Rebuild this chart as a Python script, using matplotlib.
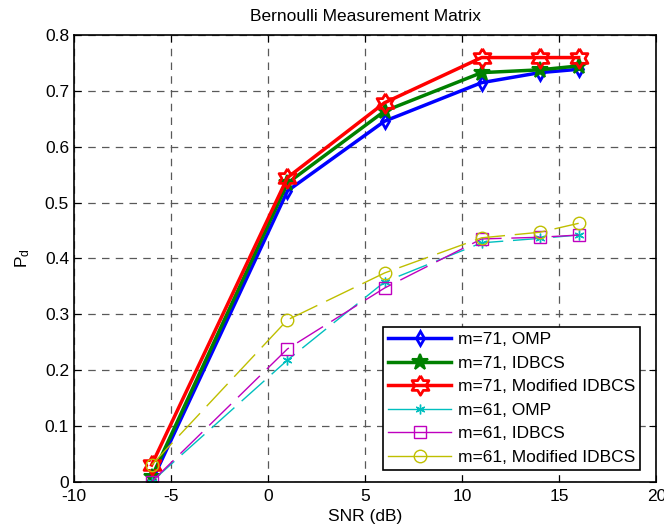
import matplotlib
matplotlib.use("Agg")
import matplotlib.pyplot as plt
import numpy as np

plt.rcParams["font.family"] = ["Liberation Sans", "DejaVu Sans"]
plt.rcParams["mathtext.default"] = "regular"
plt.rcParams["axes.unicode_minus"] = False

snr = [-6, 1, 6, 11, 14, 16]

omp_71 = [0.0, 0.521, 0.646, 0.715, 0.733, 0.739]
idbcs_71 = [0.008, 0.535, 0.664, 0.733, 0.738, 0.745]
mod_idbcs_71 = [0.03, 0.545, 0.679, 0.760, 0.760, 0.760]
omp_61 = [0.0, 0.218, 0.358, 0.428, 0.436, 0.442]
idbcs_61 = [0.0, 0.238, 0.347, 0.435, 0.438, 0.442]
mod_idbcs_61 = [0.03, 0.290, 0.374, 0.437, 0.447, 0.463]

labels = [
    "m=71, OMP",
    "m=71, IDBCS",
    "m=71, Modified IDBCS",
    "m=61, OMP",
    "m=61, IDBCS",
    "m=61, Modified IDBCS",
]

# six-pointed star like MATLAB's hexagram
ang = np.deg2rad(np.arange(12) * 30 + 90)
rad = np.where(np.arange(12) % 2 == 0, 1.0, 0.58)
hexagram = np.column_stack([rad * np.cos(ang), rad * np.sin(ang)])
hexagram = np.vstack([hexagram, hexagram[:1]])

fig = plt.figure(figsize=(6.64, 5.29), dpi=100)
ax = fig.add_axes([0.1114, 0.0894, 0.877, 0.844])

ax.plot(snr, omp_71, color="b", lw=2.5, marker="d", ms=7, mfc="none", mew=2, label=labels[0])
ax.plot(snr, idbcs_71, color=(0, 0.5, 0), lw=2.5, marker="*", ms=12, mew=1.5, label=labels[1])
ax.plot(snr, mod_idbcs_71, color="r", lw=2.5, marker=hexagram, ms=14, mfc="none", mew=2, label=labels[2])

dash = (0, (22, 7))
ax.plot(snr, omp_61, color=(0, 0.75, 0.75), lw=1, ls=dash, marker=(6, 2, 0), ms=7, label=labels[3])
ax.plot(snr, idbcs_61, color=(0.75, 0, 0.75), lw=1, ls=dash, marker="s", ms=9, mfc="none", label=labels[4])
ax.plot(snr, mod_idbcs_61, color=(0.75, 0.75, 0), lw=1, ls=dash, marker="o", ms=9, mfc="none", label=labels[5])

ax.set_xlim(-10, 20)
ax.set_ylim(0, 0.8)
ax.set_xticks(np.arange(-10, 21, 5))
ax.set_yticks(np.arange(0, 0.81, 0.1))
ax.set_yticklabels(["0", "0.1", "0.2", "0.3", "0.4", "0.5", "0.6", "0.7", "0.8"])
ax.tick_params(direction="in", top=True, right=True, labelsize=12.5, length=5)
ax.tick_params(axis="x", pad=5)
ax.grid(True, color="0.35", ls=(0, (6, 5)), lw=0.9)
for s in ax.spines.values():
    s.set_linewidth(1.2)

ax.set_xlabel("SNR (dB)", fontsize=12.5, labelpad=4)
ax.set_ylabel("P$_d$", fontsize=12.5, labelpad=9)
ax.set_title("Bernoulli Measurement Matrix", fontsize=12.5, pad=10)

leg = ax.legend(
    loc="lower right",
    bbox_to_anchor=(0.9725, 0.026),
    borderaxespad=0,
    fontsize=12.5,
    fancybox=False,
    edgecolor="k",
    framealpha=1,
    handlelength=3.6,
    handletextpad=0.4,
    labelspacing=0.48,
    borderpad=0.3,
)
leg.get_frame().set_linewidth(1.2)
for ln in leg.get_lines():
    ln.set_linestyle("-")

fig.savefig("out.png", dpi=100)
